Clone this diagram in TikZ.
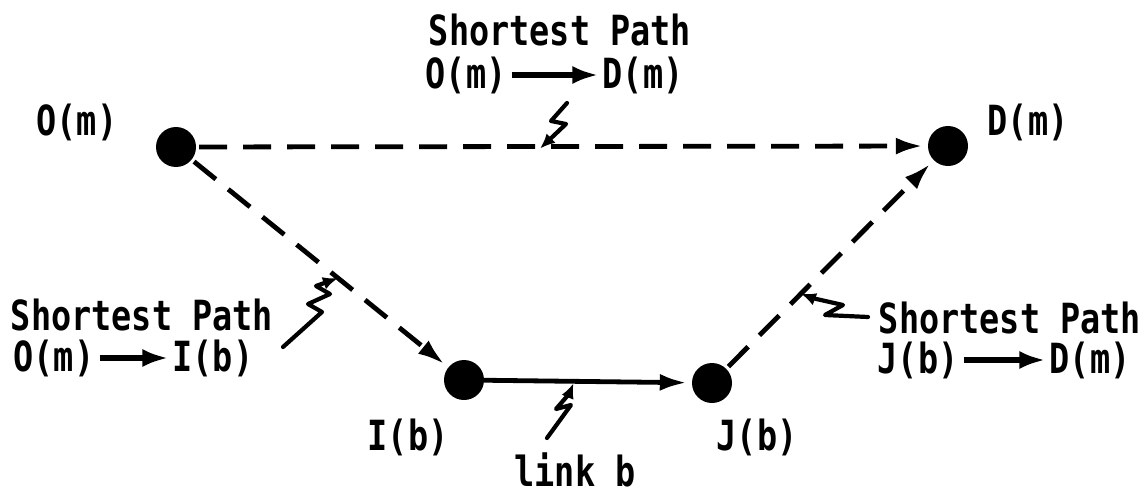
\documentclass[tikz,border=0pt]{standalone}
\usepackage{fontspec}
\setmainfont{DejaVu Sans Mono}
\usetikzlibrary{arrows.meta}
\newcommand{\tallt}[1]{\scalebox{1}[1.24]{#1}}
\begin{document}
\begin{tikzpicture}[x=1pt,y=-1pt,
  dot/.style={circle,fill=black,inner sep=0pt,minimum size=40pt},
  lbl/.style={font=\fontsize{33.5}{38}\bfseries\selectfont,inner sep=0pt},
  dpath/.style={line width=4.8pt,dash pattern=on 28pt off 16pt,-{Latex[length=27pt,width=17pt]},shorten >=5pt,shorten <=3pt},
  spath/.style={line width=4.8pt,-{Latex[length=27pt,width=17pt]},shorten >=5pt},
  txtarr/.style={line width=6pt,-{Latex[length=26pt,width=18pt]},shorten <=5pt,shorten >=4pt},
  ptr/.style={line width=4.2pt,-{Latex[length=15pt,width=13pt]},line join=round,line cap=round}]
\useasboundingbox (0,0) rectangle (1148,495);
% nodes
\node[dot] (O) at (176,147) {};
\node[dot] (D) at (948,146) {};
\node[dot] (I) at (464,380) {};
\node[dot] (J) at (712,383) {};
% node labels
\node[lbl] (Ol) at (77,122) {\tallt{O(m)}};
\node[lbl] (Dl) at (1028,122) {\tallt{D(m)}};
\node[lbl] (Il) at (408,437) {\tallt{I(b)}};
\node[lbl] (Jl) at (757,437) {\tallt{J(b)}};
\node[lbl] (lb) at (575,470) {\tallt{link b}};
% paths
\draw[dpath] (O) -- (D);
\draw[dpath] (O) -- (I);
\draw[dpath] (J) -- (D);
\draw[spath] (I) -- (J);
% points on paths
\path (O) -- (D) coordinate[pos=0.47] (p1);
\path (O) -- (I) coordinate[pos=0.57] (p2);
\path (I) -- (J) coordinate[pos=0.43] (p3);
\path (J) -- (D) coordinate[pos=0.36] (p4);
% top annotation
\node[lbl] (T1) at (560,30) {\tallt{Shortest Path}};
\node[lbl] (T2a) at (466,75) {\tallt{O(m)}};
\node[lbl] (T2b) at (643,75) {\tallt{D(m)}};
\draw[txtarr] (T2a) -- (T2b);
% left annotation
\node[lbl] (L1) at (142,315) {\tallt{Shortest Path}};
\node[lbl] (L2a) at (54,358) {\tallt{O(m)}};
\node[lbl] (L2b) at (213,358) {\tallt{I(b)}};
\draw[txtarr] (L2a) -- (L2b);
% right annotation
\node[lbl] (R1) at (1010,318) {\tallt{Shortest Path}};
\node[lbl] (R2a) at (918,360) {\tallt{J(b)}};
\node[lbl] (R2b) at (1090,360) {\tallt{D(m)}};
\draw[txtarr] (R2a) -- (R2b);
% pointers
\coordinate (s1) at (567,103);
\draw[ptr] (s1) -- (551,121) -- (566,124) -- ([yshift=-2pt]p1);
\coordinate (s2) at (283,347);
\draw[ptr] (s2) -- (322,312) -- (308,304) -- (330,294) -- (316,286) -- (p2);
\coordinate (s3) at (547,438);
\draw[ptr] (s3) -- (571,405) -- (556,409) -- (569,394) -- ([yshift=-2pt]p3);
\coordinate (s4) at (868,317);
\draw[ptr] (s4) -- (825,315) -- (843,305) -- (812,298) -- (p4);
\end{tikzpicture}
\end{document}
